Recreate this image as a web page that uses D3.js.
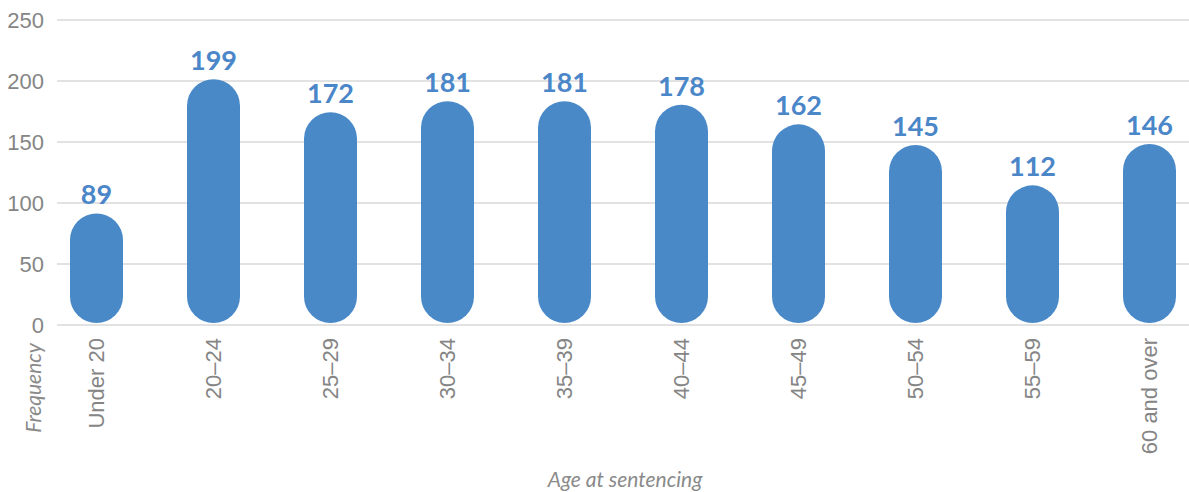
<!DOCTYPE html>
<html>
  <head>
    <meta charset="utf-8">
    <title>Age at sentencing</title>
    <script src="https://d3js.org/d3.v7.min.js"></script>
    <style>
      body { margin: 0; background: #fff; }
      svg { display: block; font-family: Lato, "Open Sans", sans-serif; }
      .grid line { stroke: #d9d9d9; stroke-width: 1.3; }
      .tick text { fill: #858585; font-size: 22px; }
      .bar { fill: #4a89c8; }
      .value { fill: #4a86c8; font-size: 27px; font-weight: bold; text-anchor: middle; }
      .title { fill: #8a8a8a; font-size: 21px; font-style: italic; }
    </style>
  </head>
  <body>
    <svg id="chart" width="1189" height="492"></svg>
    <script>
      // chart data
      const ageGroups = ["Under 20", "20\u201324", "25\u201329", "30\u201334", "35\u201339",
        "40\u201344", "45\u201349", "50\u201354", "55\u201359", "60 and over"];
      const frequencies = [89, 199, 172, 181, 181, 178, 162, 145, 112, 146];
      const yTicks = [0, 50, 100, 150, 200, 250];

      const data = ageGroups.map((g, i) => ({ group: g, value: frequencies[i] }));

      const width = 1189, height = 492;
      const plot = { left: 57, right: 1189, top: 20, bottom: 325 };

      const svg = d3.select("#chart");

      const x = d3.scaleBand()
        .domain(ageGroups)
        .range([38, 1208])
        .paddingInner(0.547)
        .paddingOuter(0.2735);
      const y = d3.scaleLinear()
        .domain([0, 250])
        .range([plot.bottom, plot.top]);

      // gridlines
      svg.append("g")
        .attr("class", "grid")
        .selectAll("line")
        .data(yTicks)
        .join("line")
          .attr("x1", plot.left)
          .attr("x2", plot.right)
          .attr("y1", d => y(d))
          .attr("y2", d => y(d));

      // y axis labels
      const yAxis = d3.axisLeft(y)
        .tickValues(yTicks)
        .tickSize(0)
        .tickPadding(13);
      svg.append("g")
        .attr("transform", "translate(" + plot.left + ",0)")
        .call(yAxis)
        .call(g => g.select(".domain").remove());

      // x axis labels, rotated
      const xAxis = d3.axisBottom(x)
        .tickSize(0)
        .tickPadding(0);
      svg.append("g")
        .attr("transform", "translate(0," + plot.bottom + ")")
        .call(xAxis)
        .call(g => g.select(".domain").remove())
        .selectAll(".tick text")
          .attr("transform", "rotate(-90)")
          .attr("text-anchor", "end")
          .attr("dy", "0.35em")
          .attr("x", -13)
          .attr("y", 0);

      // capsule bars
      const bw = x.bandwidth();
      svg.append("g")
        .selectAll("rect")
        .data(data)
        .join("rect")
          .attr("class", "bar")
          .attr("x", d => x(d.group))
          .attr("width", bw)
          .attr("y", d => y(d.value) - 3)
          .attr("height", d => y(0) - y(d.value) + 1)
          .attr("rx", bw / 2)
          .attr("ry", bw / 2);

      // value labels
      svg.append("g")
        .selectAll("text")
        .data(data)
        .join("text")
          .attr("class", "value")
          .attr("x", d => x(d.group) + bw / 2)
          .attr("y", d => y(d.value) - 12)
          .text(d => d.value);

      // axis titles
      svg.append("text")
        .attr("class", "title")
        .attr("transform", "translate(41,388) rotate(-90)")
        .attr("text-anchor", "middle")
        .text("Frequency");
      svg.append("text")
        .attr("class", "title")
        .attr("x", 625)
        .attr("y", 487)
        .attr("text-anchor", "middle")
        .text("Age at sentencing");
    </script>
  </body>
</html>
